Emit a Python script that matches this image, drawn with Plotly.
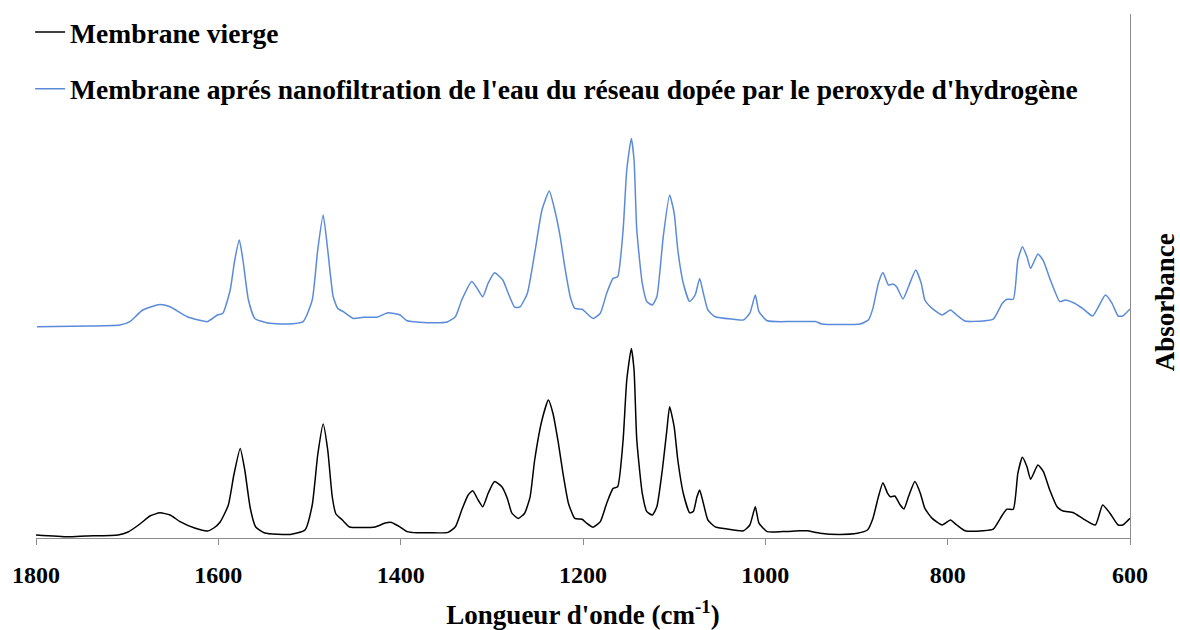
import plotly.graph_objects as go

# Wavenumbers (cm-1) and absorbance of the pristine membrane
wn_vierge = [1800, 1765, 1745, 1710, 1699, 1686, 1675, 1664, 1653, 1642, 1626, 1612, 1605, 1598,
             1589, 1583, 1576, 1571, 1565, 1559, 1549, 1521, 1505, 1497, 1491, 1485, 1480, 1475,
             1471, 1464, 1456, 1445, 1428, 1417, 1410, 1401, 1393, 1382, 1368, 1348, 1340, 1333,
             1326, 1321, 1315, 1310, 1304, 1297, 1289, 1283, 1278, 1271, 1264, 1258, 1253, 1245,
             1238, 1233, 1227, 1222, 1216, 1209, 1201, 1196, 1189, 1181, 1174, 1167, 1162, 1156,
             1152, 1147, 1144, 1141, 1135, 1130, 1124, 1119, 1113, 1108, 1105, 1100, 1096, 1090,
             1083, 1079, 1075, 1072, 1068, 1063, 1055, 1042, 1024, 1017, 1011, 1007, 998, 981,
             962, 954, 940, 918, 899, 888, 882, 876, 871, 866, 863, 858, 852, 848, 843, 836, 830,
             825, 817, 806, 797, 790, 781, 761, 750, 740, 735, 728, 723, 718, 713, 709, 701, 695,
             688, 680, 674, 662, 652, 638, 630, 622, 613, 608, 600]
abs_vierge = [0.0075, 0.003, 0.005, 0.0075, 0.015, 0.035, 0.055, 0.063, 0.0575, 0.041, 0.025, 0.0175,
              0.025, 0.04, 0.0825, 0.1575, 0.224, 0.17, 0.075, 0.0275, 0.0125, 0.009, 0.02, 0.0825,
              0.2075, 0.285, 0.22, 0.1025, 0.06, 0.045, 0.0275, 0.026, 0.0275, 0.0375, 0.039, 0.028,
              0.016, 0.013, 0.013, 0.014, 0.028, 0.07, 0.1075, 0.118, 0.095, 0.078, 0.112, 0.141,
              0.128, 0.099, 0.062, 0.049, 0.062, 0.103, 0.195, 0.295, 0.345, 0.312, 0.237, 0.162,
              0.087, 0.049, 0.047, 0.037, 0.027, 0.041, 0.087, 0.124, 0.128, 0.245, 0.395, 0.474,
              0.42, 0.245, 0.112, 0.066, 0.0575, 0.078, 0.17, 0.27, 0.328, 0.278, 0.195, 0.112,
              0.063, 0.066, 0.103, 0.12, 0.087, 0.045, 0.028, 0.0225, 0.018, 0.0325, 0.078, 0.037,
              0.016, 0.016, 0.018, 0.018, 0.012, 0.009, 0.012, 0.02, 0.049, 0.103, 0.138, 0.112,
              0.103, 0.105, 0.0825, 0.0725, 0.103, 0.141, 0.112, 0.074, 0.049, 0.0325, 0.045,
              0.0325, 0.018, 0.018, 0.022, 0.0575, 0.072, 0.072, 0.162, 0.202, 0.178, 0.147,
              0.1825, 0.166, 0.12, 0.078, 0.068, 0.063, 0.049, 0.0325, 0.0825, 0.062, 0.0325,
              0.0325, 0.049]

# Wavenumbers (cm-1) and absorbance after nanofiltration (offset spectrum)
wn_apres = [1799, 1741, 1708, 1697, 1683, 1664, 1653, 1634, 1612, 1601, 1595, 1587, 1582, 1577,
            1573, 1567, 1560, 1547, 1525, 1507, 1497, 1491, 1485, 1480, 1474, 1469, 1463, 1452,
            1441, 1426, 1414, 1401, 1393, 1365, 1349, 1340, 1333, 1322, 1315, 1310, 1304, 1297,
            1288, 1282, 1275, 1269, 1261, 1253, 1245, 1237, 1231, 1225, 1220, 1214, 1209, 1201,
            1196, 1189, 1181, 1174, 1167, 1162, 1156, 1152, 1147, 1144, 1141, 1135, 1130, 1124,
            1119, 1112, 1105, 1100, 1096, 1090, 1083, 1077, 1072, 1068, 1063, 1055, 1035, 1024,
            1017, 1011, 1007, 998, 973, 945, 938, 896, 887, 882, 876, 871, 865, 860, 856, 849,
            843, 835, 829, 825, 817, 806, 797, 790, 781, 761, 750, 740, 735, 728, 723, 718, 713,
            709, 701, 695, 688, 677, 671, 662, 652, 641, 627, 620, 613, 608, 600]
abs_apres = [0.528, 0.53, 0.5325, 0.541, 0.57, 0.584, 0.578, 0.553, 0.541, 0.5575, 0.562, 0.62,
             0.695, 0.745, 0.695, 0.595, 0.549, 0.538, 0.535, 0.541, 0.595, 0.72, 0.8075, 0.72,
             0.603, 0.574, 0.566, 0.549, 0.552, 0.552, 0.563, 0.558, 0.543, 0.538, 0.54, 0.553,
             0.595, 0.641, 0.62, 0.603, 0.637, 0.663, 0.645, 0.612, 0.577, 0.578, 0.612, 0.712,
             0.82, 0.8675, 0.82, 0.753, 0.678, 0.603, 0.574, 0.572, 0.562, 0.549, 0.562, 0.612,
             0.649, 0.653, 0.77, 0.92, 0.999, 0.945, 0.77, 0.637, 0.591, 0.5825, 0.603, 0.753,
             0.8575, 0.812, 0.72, 0.637, 0.591, 0.6075, 0.649, 0.612, 0.57, 0.553, 0.547, 0.545,
             0.562, 0.6075, 0.566, 0.543, 0.541, 0.541, 0.535, 0.535, 0.545, 0.574, 0.637, 0.664,
             0.6325, 0.635, 0.628, 0.5975, 0.628, 0.67, 0.637, 0.595, 0.574, 0.5575, 0.57, 0.5575,
             0.5425, 0.5425, 0.547, 0.587, 0.597, 0.597, 0.695, 0.728, 0.703, 0.674, 0.71, 0.693,
             0.649, 0.591, 0.595, 0.588, 0.574, 0.555, 0.6075, 0.588, 0.555, 0.555, 0.5725]

x_ticks = [1800, 1600, 1400, 1200, 1000, 800, 600]

serif = "Liberation Serif"

fig = go.Figure()
fig.add_trace(go.Scatter(
    x=wn_vierge, y=abs_vierge, mode="lines", name="Membrane vierge",
    line=dict(color="#000000", width=1.5, shape="spline", smoothing=0.5),
    legendgroup="a",
))
fig.add_trace(go.Scatter(
    x=wn_apres, y=abs_apres, mode="lines",
    name="Membrane aprés nanofiltration de l'eau du réseau dopée par le peroxyde d'hydrogène",
    line=dict(color="#5B8BD8", width=1.5, shape="spline", smoothing=0.5),
    legendgroup="b",
))

fig.update_layout(
    width=1180, height=630,
    margin=dict(l=36, r=50, t=14, b=92, autoexpand=False),
    paper_bgcolor="white", plot_bgcolor="white",
    font=dict(family=serif, color="black", size=27, weight="bold"),
    showlegend=True,
    legend=dict(
        xref="container", yref="container", x=0.0255, y=0.988, xanchor="left", yanchor="top",
        bgcolor="rgba(0,0,0,0)", itemwidth=30, tracegroupgap=18,
        font=dict(family=serif, size=27.5, color="black", weight="bold"),
    ),
    xaxis=dict(
        range=[1800, 600], autorange=False, tickmode="array", tickvals=x_ticks,
        ticks="outside", ticklen=6, tickcolor="#8c8c8c", tickwidth=1,
        ticklabelstandoff=9,
        showline=True, linecolor="#8c8c8c", linewidth=1,
        showgrid=False, zeroline=False,
        tickfont=dict(family=serif, size=24, color="black", weight="bold"),
        title=dict(text="Longueur d'onde (cm<sup>-1</sup>)", standoff=24,
                   font=dict(family=serif, size=27, color="black", weight="bold")),
    ),
    yaxis=dict(
        range=[0, 1.31], autorange=False, side="right", showline=True,
        linecolor="#8c8c8c", linewidth=1,
        showticklabels=False, ticks="", showgrid=False, zeroline=False,
    ),
    annotations=[dict(
        text="Absorbance", xref="paper", yref="paper", x=1.0, y=0.45,
        xshift=35, textangle=-90, showarrow=False, xanchor="center", yanchor="middle",
        font=dict(family=serif, size=27, color="black", weight="bold"),
    )],
)

fig.write_html("out.html")
